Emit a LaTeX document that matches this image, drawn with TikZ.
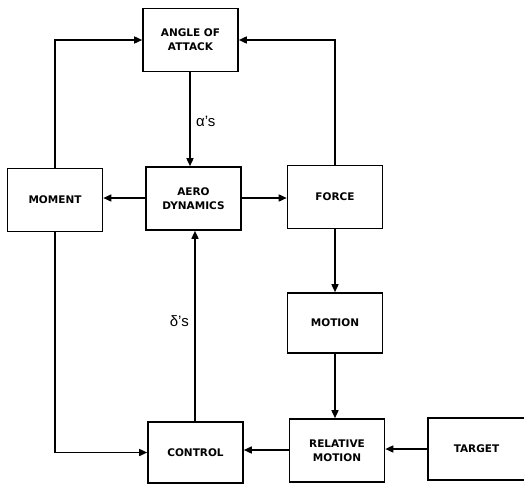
\documentclass[tikz,border=0pt]{standalone}
\usepackage{fontspec}
\setmainfont{Liberation Sans}
\newfontfamily\blkfont{DejaVu Sans}
\usetikzlibrary{arrows.meta}
\begin{document}
\begin{tikzpicture}[x=1pt,y=-1pt,
  blk/.style={draw,line width=1.6pt,minimum width=95pt,minimum height=63pt,inner sep=0pt,align=center,font=\blkfont\bfseries\fontsize{10.5}{14}\selectfont},
  conn/.style={line width=1.5pt,-{Triangle[length=8pt,width=7pt]}},
  lbl/.style={font=\fontsize{15}{17}\selectfont,inner sep=0pt}]
\useasboundingbox (0,0) rectangle (524,485);
\node[blk] (angle) at (190.5,40) {ANGLE OF\\ATTACK};
\node[blk] (moment) at (55,200) {MOMENT};
\node[blk] (aero) at (193.5,198.5) {AERO\\DYNAMICS};
\node[blk] (force) at (335,197) {FORCE};
\node[blk,minimum height=60pt] (motion) at (335,323) {MOTION};
\node[blk,minimum height=61pt] (control) at (195.5,452.5) {CONTROL};
\node[blk] (relmot) at (337,450.5) {RELATIVE\\MOTION};
\node[blk,minimum width=97pt,minimum height=62pt] (target) at (476.5,449) {TARGET};
\draw[conn] (angle.south -| 190,0) -- (aero.north -| 190,0);
\node[lbl,anchor=west] (alpha) at (196,121) {α's};
\draw[conn] (aero.west |- 0,198) -- (moment.east |- 0,198);
\draw[conn] (aero.east |- 0,198) -- (force.west |- 0,198);
\draw[conn] (moment.north) |- (angle.west);
\draw[conn] (force.north) |- (angle.east);
\draw[conn] (force) -- (motion);
\draw[conn] (motion.south) -- (motion.south |- relmot.north);
\draw[conn] (target.west |- 0,449) -- (relmot.east |- 0,449);
\draw[conn] (relmot.west |- 0,450) -- (control.east |- 0,450);
\draw[conn] (moment.south) |- (control.west);
\draw[conn] (control.north -| 195,0) -- (aero.south -| 195,0);
\node[lbl,anchor=east] (delta) at (189,321) {δ's};
\end{tikzpicture}
\end{document}
